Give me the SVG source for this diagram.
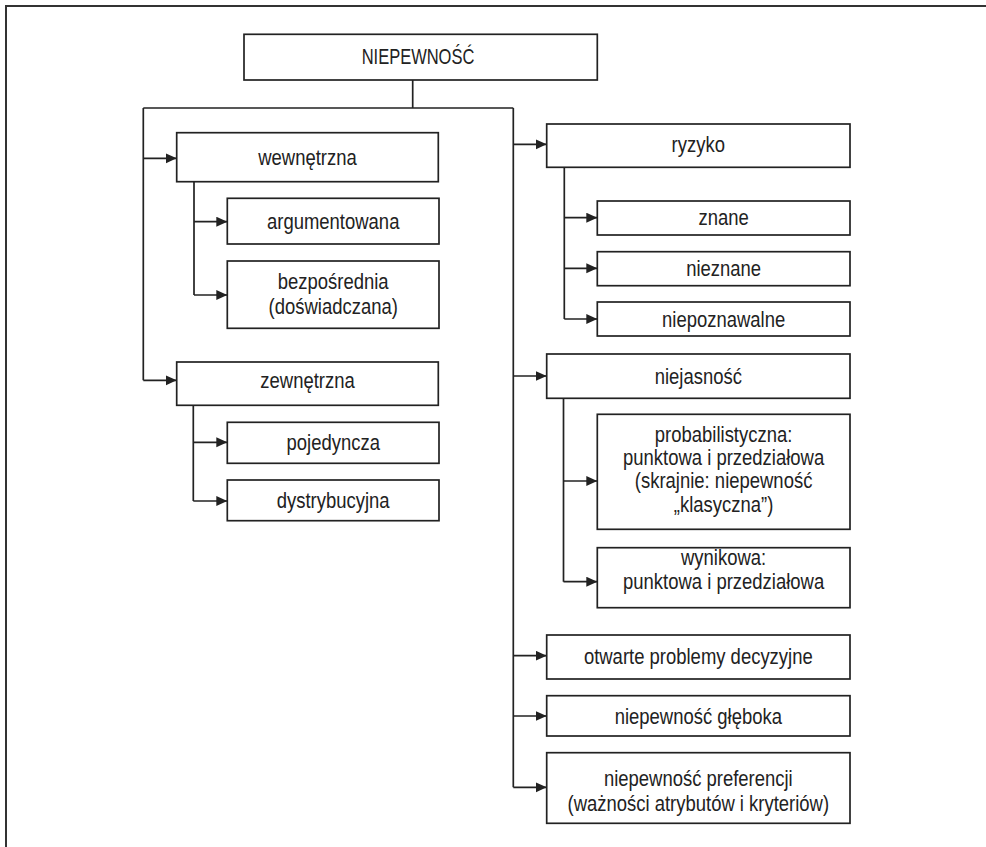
<svg xmlns="http://www.w3.org/2000/svg" width="986" height="847" viewBox="0 0 986 847">
<style>
.box{fill:#fff;stroke:#222;stroke-width:1.7}
.ln{fill:none;stroke:#222;stroke-width:1.7}
.ar{fill:none;stroke:#222;stroke-width:1.7;marker-end:url(#ah)}
text{font-family:"Liberation Sans",Arial,sans-serif;font-size:22px;fill:#222;text-anchor:middle}
</style>
<defs>
<marker id="ah" markerUnits="userSpaceOnUse" markerWidth="12" markerHeight="12" refX="11" refY="5" orient="auto">
<path d="M0,0 L11,5 L0,10 Z" fill="#222"/>
</marker>
</defs>
<rect width="986" height="847" fill="#fff"/>
<path d="M6,847 V6 H986" fill="none" stroke="#333" stroke-width="2"/>
<g id="connectors">
<path class="ln" d="M412.7,80 V108 M143.3,108 H513.3 M143.3,108 V380.3 M194,181.7 V295 M193.3,405.3 V501 M513.3,108 V787.3 M564.3,167.3 V319 M563.5,398.3 V581.7"/>
<path class="ar" d="M143.3,158.3 H176.7"/>
<path class="ar" d="M143.3,380.3 H176.7"/>
<path class="ar" d="M194,221.7 H227.3"/>
<path class="ar" d="M194,295 H227.3"/>
<path class="ar" d="M193.3,442.3 H227.3"/>
<path class="ar" d="M193.3,501 H227.3"/>
<path class="ar" d="M513.3,144.3 H546.7"/>
<path class="ar" d="M513.3,376 H546.7"/>
<path class="ar" d="M513.3,655.7 H546.7"/>
<path class="ar" d="M513.3,716 H546.7"/>
<path class="ar" d="M513.3,787.3 H546.7"/>
<path class="ar" d="M564.3,217.7 H597.3"/>
<path class="ar" d="M564.3,268.3 H597.3"/>
<path class="ar" d="M564.3,319 H597.3"/>
<path class="ar" d="M563.5,481 H597.3"/>
<path class="ar" d="M563.5,581.7 H597.3"/>
</g>
<g id="n-root"><rect class="box" x="244" y="34.3" width="353.3" height="45.7"/><text transform="matrix(0.75,0,0,1,418,64)">NIEPEWNOŚĆ</text></g>
<g id="n-wewnetrzna"><rect class="box" x="176.7" y="132.7" width="261.6" height="49"/><text transform="matrix(0.84,0,0,1,307.5,164.5)">wewnętrzna</text></g>
<g id="n-argumentowana"><rect class="box" x="227.3" y="198.3" width="211.7" height="45.7"/><text transform="matrix(0.84,0,0,1,333.2,229)">argumentowana</text></g>
<g id="n-bezposrednia"><rect class="box" x="227.3" y="261" width="211.7" height="67.3"/><text transform="matrix(0.84,0,0,1,333.2,289)">bezpośrednia</text><text transform="matrix(0.84,0,0,1,333.2,313.5)">(doświadczana)</text></g>
<g id="n-zewnetrzna"><rect class="box" x="176.7" y="362" width="261.6" height="43.3"/><text transform="matrix(0.84,0,0,1,307.5,388)">zewnętrzna</text></g>
<g id="n-pojedyncza"><rect class="box" x="227.3" y="422.3" width="211.7" height="41"/><text transform="matrix(0.84,0,0,1,333.2,450)">pojedyncza</text></g>
<g id="n-dystrybucyjna"><rect class="box" x="227.3" y="480" width="211.7" height="40.7"/><text transform="matrix(0.84,0,0,1,333.2,508)">dystrybucyjna</text></g>
<g id="n-ryzyko"><rect class="box" x="546.7" y="124" width="303.3" height="43.3"/><text transform="matrix(0.84,0,0,1,698.3,151.5)">ryzyko</text></g>
<g id="n-znane"><rect class="box" x="597.3" y="201" width="252.7" height="34"/><text transform="matrix(0.84,0,0,1,723.6,225)">znane</text></g>
<g id="n-nieznane"><rect class="box" x="597.3" y="251.7" width="252.7" height="34"/><text transform="matrix(0.84,0,0,1,723.6,276)">nieznane</text></g>
<g id="n-niepoznawalne"><rect class="box" x="597.3" y="302" width="252.7" height="34"/><text transform="matrix(0.84,0,0,1,723.6,326.5)">niepoznawalne</text></g>
<g id="n-niejasnosc"><rect class="box" x="546.7" y="354" width="303.3" height="44.3"/><text transform="matrix(0.84,0,0,1,698.3,383.5)">niejasność</text></g>
<g id="n-probabilistyczna"><rect class="box" x="597.3" y="414.3" width="252.7" height="115"/><text transform="matrix(0.84,0,0,1,723.6,441.7)">probabilistyczna:</text><text transform="matrix(0.84,0,0,1,723.6,465)">punktowa i przedziałowa</text><text transform="matrix(0.84,0,0,1,723.6,488.3)">(skrajnie: niepewność</text><text transform="matrix(0.84,0,0,1,723.6,511.7)">„klasyczna”)</text></g>
<g id="n-wynikowa"><rect class="box" x="597.3" y="547.7" width="252.7" height="60"/><text transform="matrix(0.84,0,0,1,723.6,565)">wynikowa:</text><text transform="matrix(0.84,0,0,1,723.6,589)">punktowa i przedziałowa</text></g>
<g id="n-otwarte"><rect class="box" x="546.7" y="635" width="303.3" height="44"/><text transform="matrix(0.84,0,0,1,698.3,663.5)">otwarte problemy decyzyjne</text></g>
<g id="n-gleboka"><rect class="box" x="546.7" y="695.7" width="303.3" height="40.3"/><text transform="matrix(0.84,0,0,1,698.3,723.5)">niepewność głęboka</text></g>
<g id="n-preferencji"><rect class="box" x="546.7" y="752.7" width="303.3" height="70.6"/><text transform="matrix(0.84,0,0,1,698.3,785.7)">niepewność preferencji</text><text transform="matrix(0.84,0,0,1,698.3,810.5)">(ważności atrybutów i kryteriów)</text></g>
</svg>
